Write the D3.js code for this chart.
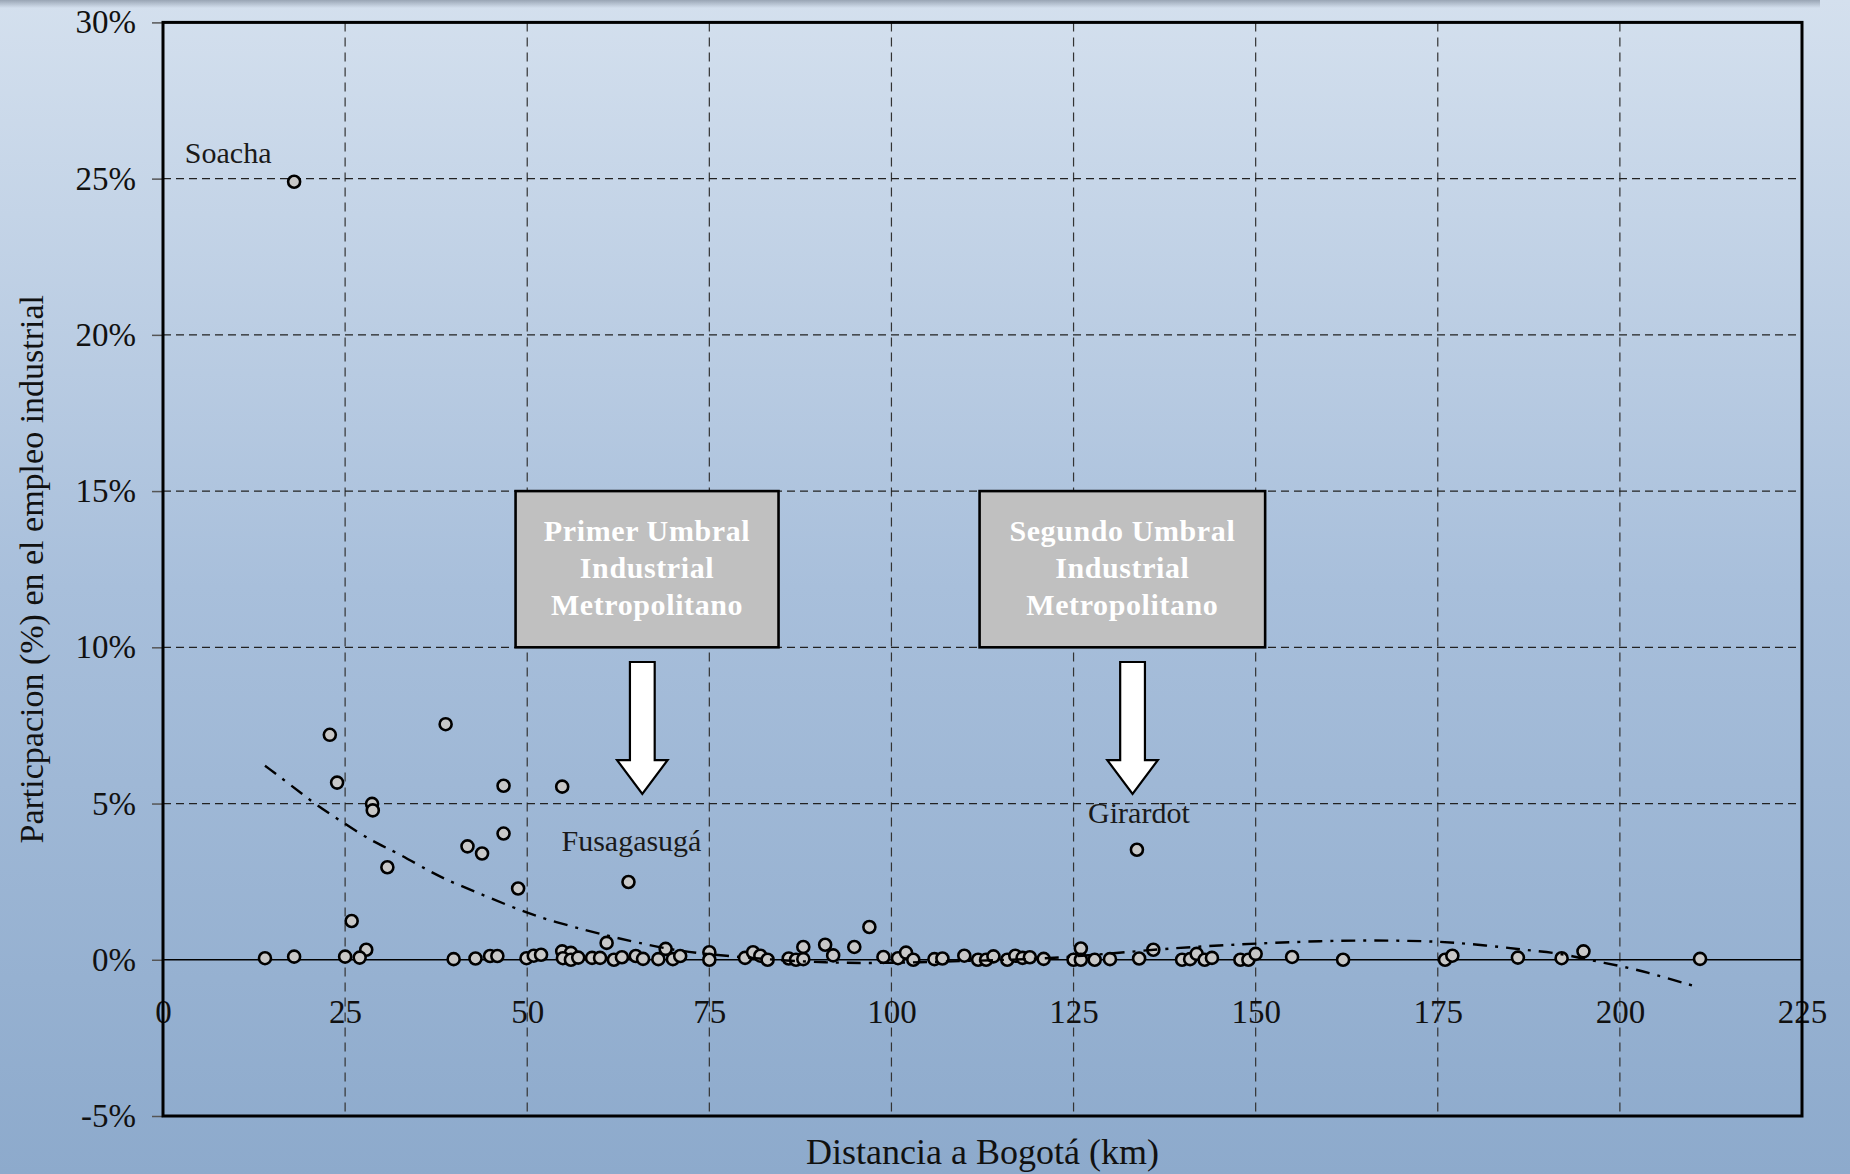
<!DOCTYPE html>
<html>
<head>
<meta charset="utf-8">
<script src="https://cdn.jsdelivr.net/npm/d3@7"></script>
<style>
  body { margin: 0; }
  svg { display: block; }
  text { font-family: "Liberation Serif", "DejaVu Serif", serif; }
</style>
</head>
<body>
<div id="chart"></div>
<script>
// municipios: distancia a Bogota (km) y participacion (%) en el empleo industrial
const distKm = [18.0, 22.9, 23.9, 28.7, 28.8, 25.9, 27.9, 30.8, 38.8, 41.8, 43.8, 46.75, 46.75, 48.75, 54.8, 60.9, 63.9, 133.7, 96.97,
	14.0, 18.0, 25.0, 27.0, 39.9, 42.9, 44.9, 45.9, 49.9, 50.9, 51.9, 54.8, 56.0, 54.9, 56.0, 57.0, 58.9, 60.0, 61.9,
	63.0, 64.9, 65.9, 68.0, 69.0, 70.0, 71.0, 75.0, 75.0, 79.9, 81.0, 82.0, 83.0, 85.9, 86.9, 87.9, 87.9, 90.9, 92.0, 94.9,
	98.9, 100.9, 102.0, 103.0, 105.9, 107.0, 110.0, 111.9, 113.0, 114.0, 115.9, 117.0, 118.0, 119.0, 120.9,
	125.0, 126.0, 126.0, 127.9, 130.0, 134.0, 135.95, 139.9, 141.0, 141.9, 143.0, 144.0, 147.9, 149.0, 150.0, 155.0,
	162.0, 176.0, 177.0, 186.0, 192.0, 195.0, 211.0];
const shareEmp = [24.9, 7.2, 5.67, 4.99, 4.78, 1.24, 0.32, 2.96, 7.54, 3.63, 3.40, 5.57, 4.04, 2.28, 5.54, 0.54, 2.49, 3.52, 1.05,
	0.05, 0.1, 0.1, 0.07, 0.02, 0.04, 0.12, 0.12, 0.05, 0.13, 0.16, 0.27, 0.22, 0.05, 0.0, 0.07, 0.06, 0.06, 0.0,
	0.08, 0.12, 0.03, 0.02, 0.35, 0.02, 0.12, 0.24, 0.0, 0.06, 0.24, 0.13, 0.0, 0.04, 0.0, 0.41, 0.02, 0.48, 0.14, 0.41,
	0.09, 0.05, 0.23, 0.0, 0.02, 0.04, 0.13, 0.0, 0.0, 0.11, 0.0, 0.13, 0.06, 0.08, 0.03,
	0.0, 0.36, 0.0, 0.0, 0.02, 0.04, 0.32, 0.0, 0.02, 0.19, 0.0, 0.06, 0.0, 0.0, 0.19, 0.09,
	0.0, 0.0, 0.13, 0.07, 0.05, 0.27, 0.03];

// linea de tendencia
const trendKm = [14, 17.5, 21, 25, 29, 32, 37, 40, 45, 50, 54, 58, 61.5, 65, 69, 73, 79, 85, 91, 97, 104, 110, 116, 121,
	126, 132, 138, 145, 152, 159, 165, 171, 175, 179, 184, 188, 192, 196, 200, 204, 207.5, 210.5];
const trendPct = [6.21, 5.6, 4.96, 4.35, 3.75, 3.45, 2.77, 2.45, 1.97, 1.49, 1.2, 0.95, 0.74, 0.56, 0.36, 0.22, 0.09, -0.02,
	-0.09, -0.11, -0.08, -0.04, 0.0, 0.04, 0.12, 0.24, 0.36, 0.46, 0.54, 0.6, 0.62, 0.61, 0.58, 0.52, 0.4, 0.29, 0.2,
	-0.02, -0.19, -0.42, -0.66, -0.86];

const xTicks = [0, 25, 50, 75, 100, 125, 150, 175, 200, 225];
const yTicks = [-5, 0, 5, 10, 15, 20, 25, 30];

const cityNames = ["Soacha", "Fusagasugá", "Girardot"];
const cityKm = [3.0, 54.7, 127.0];
const cityPct = [25.5, 3.47, 4.38];

const boxLines = [
	["Primer Umbral", "Industrial", "Metropolitano"],
	["Segundo Umbral", "Industrial", "Metropolitano"]
];
const boxKm = [[48.4, 84.5], [112.1, 151.3]];
const boxPct = [15, 10];
const arrowKm = [65.8, 133.1];
const arrowPct = [9.53, 6.39, 5.31]; // top, head start, tip

const width = 1850, height = 1174;
const margin = {left: 163, right: 48, top: 22.4, bottom: 58};

const svg = d3.select("#chart").append("svg")
	.attr("width", width)
	.attr("height", height);

const defs = svg.append("defs");
const bg = defs.append("linearGradient").attr("id", "bg")
	.attr("x1", 0).attr("y1", 0).attr("x2", 0).attr("y2", 1);
bg.append("stop").attr("offset", "0%").attr("stop-color", "#d4e0ee");
bg.append("stop").attr("offset", "50%").attr("stop-color", "#a8bfdb");
bg.append("stop").attr("offset", "100%").attr("stop-color", "#8daacc");

const shade = defs.append("linearGradient").attr("id", "shade")
	.attr("x1", 0).attr("y1", 0).attr("x2", 0).attr("y2", 1);
shade.append("stop").attr("offset", "0%").attr("stop-color", "#8a96a6").attr("stop-opacity", 0.8);
shade.append("stop").attr("offset", "100%").attr("stop-color", "#8a96a6").attr("stop-opacity", 0);

svg.append("rect").attr("width", width).attr("height", height).attr("fill", "url(#bg)");
svg.append("rect").attr("width", width - 30).attr("height", 8).attr("fill", "url(#shade)");

const x = d3.scaleLinear().domain([0, 225]).range([margin.left, width - margin.right]);
const y = d3.scaleLinear().domain([-5, 30]).range([height - margin.bottom, margin.top]);

// rejilla
svg.append("g")
	.selectAll("line")
	.data(xTicks.filter(d => d > 0 && d < 225))
	.enter().append("line")
		.attr("x1", d => x(d)).attr("x2", d => x(d))
		.attr("y1", y(30)).attr("y2", y(-5))
		.attr("stroke", "#333").attr("stroke-width", 1.2)
		.attr("stroke-dasharray", "9,6");

svg.append("g")
	.selectAll("line")
	.data(yTicks.filter(d => d > 0 && d < 30))
	.enter().append("line")
		.attr("x1", x(0)).attr("x2", x(225))
		.attr("y1", d => y(d)).attr("y2", d => y(d))
		.attr("stroke", "#222").attr("stroke-width", 1.2)
		.attr("stroke-dasharray", "8,5");

// linea del cero
svg.append("line")
	.attr("x1", x(0)).attr("x2", x(225))
	.attr("y1", y(0)).attr("y2", y(0))
	.attr("stroke", "#000").attr("stroke-width", 1.6);

// ejes
const axisY = d3.axisLeft(y).tickValues(yTicks).tickSize(11).tickPadding(16).tickFormat(d => d + "%");
const gy = svg.append("g").attr("transform", `translate(${x(0)},0)`).call(axisY);
gy.select(".domain").remove();
gy.selectAll(".tick line").attr("stroke", "#555").attr("stroke-width", 1.5);
gy.selectAll(".tick text").attr("font-size", 33).attr("fill", "#111")
	.style("font-family", "'Liberation Serif', serif");

const axisX = d3.axisBottom(x).tickValues(xTicks).tickSize(0).tickPadding(40);
const gx = svg.append("g").attr("transform", `translate(0,${y(0)})`).call(axisX);
gx.select(".domain").remove();
gx.selectAll(".tick text").attr("font-size", 33).attr("fill", "#111")
	.style("font-family", "'Liberation Serif', serif");

// puntos
const points = distKm.map((d, i) => ({km: d, pct: shareEmp[i]}));
svg.append("g")
	.selectAll("circle")
	.data(points)
	.enter().append("circle")
		.attr("cx", d => x(d.km))
		.attr("cy", d => y(d.pct))
		.attr("r", 6)
		.attr("fill", "#c8c8c8")
		.attr("stroke", "#000")
		.attr("stroke-width", 2.6);

// tendencia
const trend = trendKm.map((d, i) => ({km: d, pct: trendPct[i]}));
const line = d3.line()
	.curve(d3.curveBasis)
	.x(d => x(d.km))
	.y(d => y(d.pct));
svg.append("path")
	.datum(trend)
	.attr("d", line)
	.attr("fill", "none")
	.attr("stroke", "#000")
	.attr("stroke-width", 2.4)
	.attr("stroke-dasharray", "14,8,3,8");

// marco
svg.append("rect")
	.attr("x", x(0)).attr("y", y(30))
	.attr("width", x(225) - x(0)).attr("height", y(-5) - y(30))
	.attr("fill", "none").attr("stroke", "#000").attr("stroke-width", 3);

// nombres de municipios
svg.append("g")
	.selectAll("text")
	.data(cityNames)
	.enter().append("text")
		.attr("x", (d, i) => x(cityKm[i]))
		.attr("y", (d, i) => y(cityPct[i]))
		.attr("font-size", 30)
		.attr("fill", "#1a1a1a")
		.text(d => d);

// cajas
boxLines.forEach((lines, i) => {
	const x0 = x(boxKm[i][0]), x1 = x(boxKm[i][1]);
	const y0 = y(boxPct[0]), y1 = y(boxPct[1]);
	svg.append("rect")
		.attr("x", x0).attr("y", y0)
		.attr("width", x1 - x0).attr("height", y1 - y0)
		.attr("fill", "#c0c0c0").attr("stroke", "#000").attr("stroke-width", 2.6);
	svg.append("g").selectAll("text")
		.data(lines)
		.enter().append("text")
			.attr("x", (x0 + x1) / 2)
			.attr("y", (d, j) => y0 + 50 + j * 37)
			.attr("text-anchor", "middle")
			.attr("font-size", 30)
			.attr("letter-spacing", 0.6)
			.attr("font-weight", "bold")
			.attr("fill", "#fff")
			.text(d => d);
});

// flechas
const shaftW = 1.7, headW = 3.47;
svg.append("g")
	.selectAll("path")
	.data(arrowKm)
	.enter().append("path")
		.attr("d", c => {
			const p = [
				[c - shaftW, arrowPct[0]], [c + shaftW, arrowPct[0]], [c + shaftW, arrowPct[1]],
				[c + headW, arrowPct[1]], [c, arrowPct[2]], [c - headW, arrowPct[1]], [c - shaftW, arrowPct[1]]
			];
			return "M" + p.map(q => `${x(q[0])},${y(q[1])}`).join("L") + "Z";
		})
		.attr("fill", "#fff")
		.attr("stroke", "#000")
		.attr("stroke-width", 2.2)
		.attr("stroke-linejoin", "miter");

// titulos
svg.append("text")
	.attr("x", (x(0) + x(225)) / 2)
	.attr("y", 1164)
	.attr("text-anchor", "middle")
	.attr("font-size", 36)
	.attr("fill", "#111")
	.text("Distancia a Bogotá (km)");

svg.append("text")
	.attr("transform", `translate(43,${(y(30) + y(-5)) / 2}) rotate(-90)`)
	.attr("text-anchor", "middle")
	.attr("font-size", 34)
	.attr("fill", "#111")
	.text("Particpacion (%) en el empleo industrial");
</script>
</body>
</html>
